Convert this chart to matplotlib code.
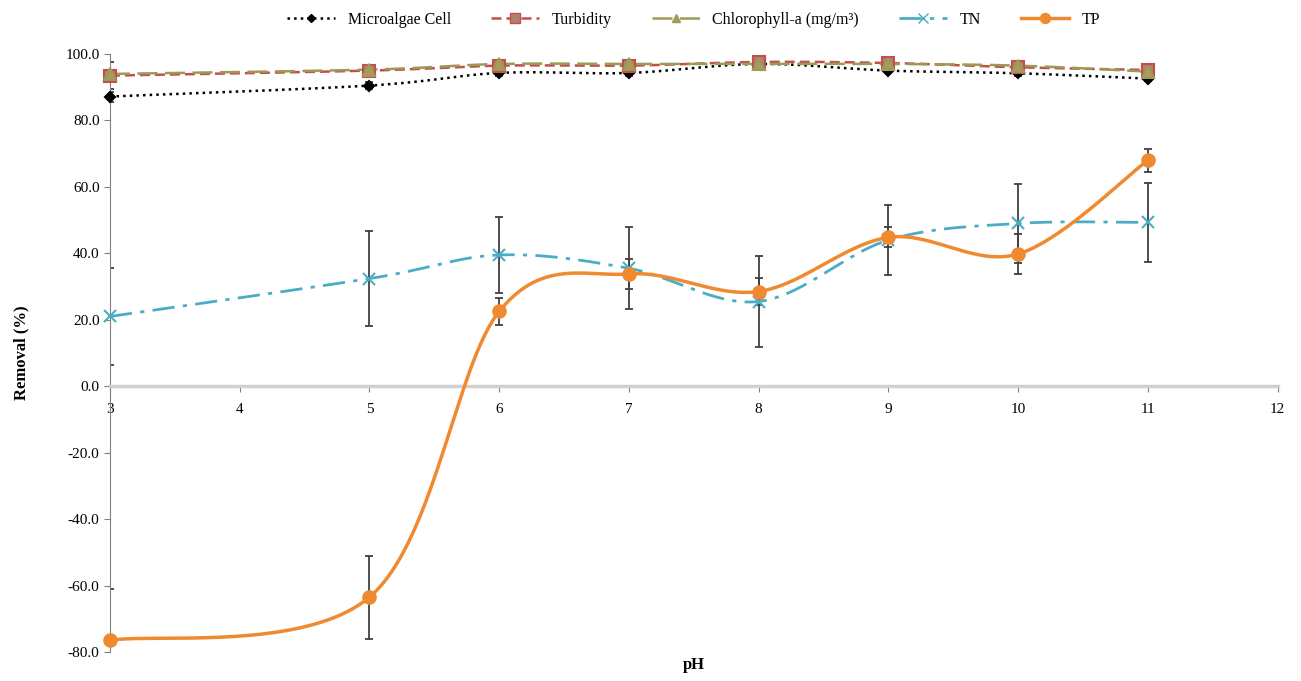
import numpy as np
import matplotlib.pyplot as plt
from matplotlib.lines import Line2D

plt.rcParams['font.family'] = ['Liberation Serif', 'DejaVu Serif']

ph = [3, 5, 6, 7, 8, 9, 10, 11]

microalgae = [87.2, 90.5, 94.3, 94.3, 97.0, 95.0, 94.2, 92.6]
microalgae_err = [1.5, 1.0, 0.8, 0.8, 0.8, 0.8, 0.8, 0.8]
turbidity = [93.5, 95.0, 96.5, 96.5, 97.6, 97.3, 96.0, 95.2]
turbidity_err = [4.0, 1.0, 0.8, 0.8, 0.6, 0.6, 0.8, 0.8]
chlorophyll = [94.0, 95.3, 97.0, 97.0, 97.0, 97.0, 96.5, 94.7]
chlorophyll_err = [1.0, 1.0, 0.6, 0.6, 0.6, 0.6, 0.6, 0.8]
tn = [21.0, 32.4, 39.5, 35.5, 25.5, 44.0, 49.0, 49.3]
tn_err = [14.6, 14.3, 11.5, 12.3, 13.8, 10.5, 12.0, 11.8]
tp = [-76.5, -63.5, 22.5, 33.8, 28.5, 44.8, 39.8, 68.0]
tp_err = [15.5, 12.5, 4.0, 4.6, 4.0, 3.0, 6.0, 3.5]


def smooth(x, y, n=40):
    # Excel style smoothed line (cubic Bezier with 1/6 tangents)
    x = np.asarray(x, float)
    y = np.asarray(y, float)
    px = np.concatenate([[x[0]], x, [x[-1]]])
    py = np.concatenate([[y[0]], y, [y[-1]]])
    xs, ys = [], []
    t = np.linspace(0, 1, n)
    for i in range(1, len(px) - 2):
        p0 = np.array([px[i], py[i]])
        p3 = np.array([px[i + 1], py[i + 1]])
        p1 = p0 + (np.array([px[i + 1], py[i + 1]]) - np.array([px[i - 1], py[i - 1]])) / 6
        p2 = p3 - (np.array([px[i + 2], py[i + 2]]) - np.array([px[i], py[i]])) / 6
        pts = ((1 - t) ** 3)[:, None] * p0 + (3 * (1 - t) ** 2 * t)[:, None] * p1 \
            + (3 * (1 - t) * t ** 2)[:, None] * p2 + (t ** 3)[:, None] * p3
        xs.extend(pts[:, 0])
        ys.extend(pts[:, 1])
    return xs, ys


fig = plt.figure(figsize=(13.01, 6.81), dpi=100)
ax = fig.add_axes([0.0845, 0.0426, 0.8975, 0.8781])

series = [
    ('Microalgae Cell', microalgae, microalgae_err, 'black', ':', 'D', 'black', 1.8, 5),
    ('Turbidity', turbidity, turbidity_err, '#c0504d', (0, (4, 2)), 's', '#b08070', 1.8, 9),
    ('Chlorophyll-a (mg/m³)', chlorophyll, chlorophyll_err, '#9c9a55', (0, (8, 3)), '^', '#a89a60', 1.8, 8),
    ('TN', tn, tn_err, '#4bacc6', (0, (8, 3, 1.5, 3)), 'x', '#4bacc6', 2.0, 9),
    ('TP', tp, tp_err, '#f08a30', '-', 'o', '#f08a30', 2.5, 9),
]

handles = []
for name, vals, err, color, ls, mk, mcolor, lw, ms in series:
    ax.errorbar(ph, vals, yerr=err, fmt='none', ecolor='#404040', elinewidth=1.3,
                capsize=3, capthick=1.3, zorder=2)
    sx, sy = smooth(ph, vals)
    ax.plot(sx, sy, color=color, linestyle=ls, linewidth=lw, zorder=3, clip_on=False)
    ax.plot(ph, vals, linestyle='none', marker=mk, color=mcolor, markersize=ms,
            markeredgecolor=color, markeredgewidth=1.5, zorder=4, clip_on=False)
    handles.append(Line2D([0], [0], color=color, linestyle=ls, linewidth=lw, marker=mk,
                          markerfacecolor=mcolor, markeredgecolor=color, markersize=ms * 0.8))

ax.set_xlim(3, 12)
ax.set_ylim(-80, 100)
ax.set_xticks(range(3, 13))
ax.set_yticks(np.arange(-80, 101, 20))
ax.yaxis.set_major_formatter(plt.FormatStrFormatter('%.1f'))

ax.spines['top'].set_visible(False)
ax.spines['right'].set_visible(False)
ax.spines['left'].set_color('#808080')
ax.spines['bottom'].set_position(('data', 0))
ax.spines['bottom'].set_color('#d0d0d0')
ax.spines['bottom'].set_linewidth(2.5)
ax.tick_params(axis='both', labelsize=11, color='#808080', length=4)
ax.tick_params(axis='x', pad=8)

ax.set_ylabel('Removal (%)', fontsize=12, fontweight='bold', labelpad=26)
ax.set_xlabel('pH', fontsize=12, fontweight='bold')
ax.xaxis.set_label_coords(0.5, -0.008)

ax.legend(handles=handles, labels=[s[0] for s in series], loc='lower center',
          bbox_to_anchor=(0.5, 1.02), ncol=5, frameon=False, fontsize=11.5,
          handlelength=3, columnspacing=2.5)

fig.savefig('out.png', dpi=100)
